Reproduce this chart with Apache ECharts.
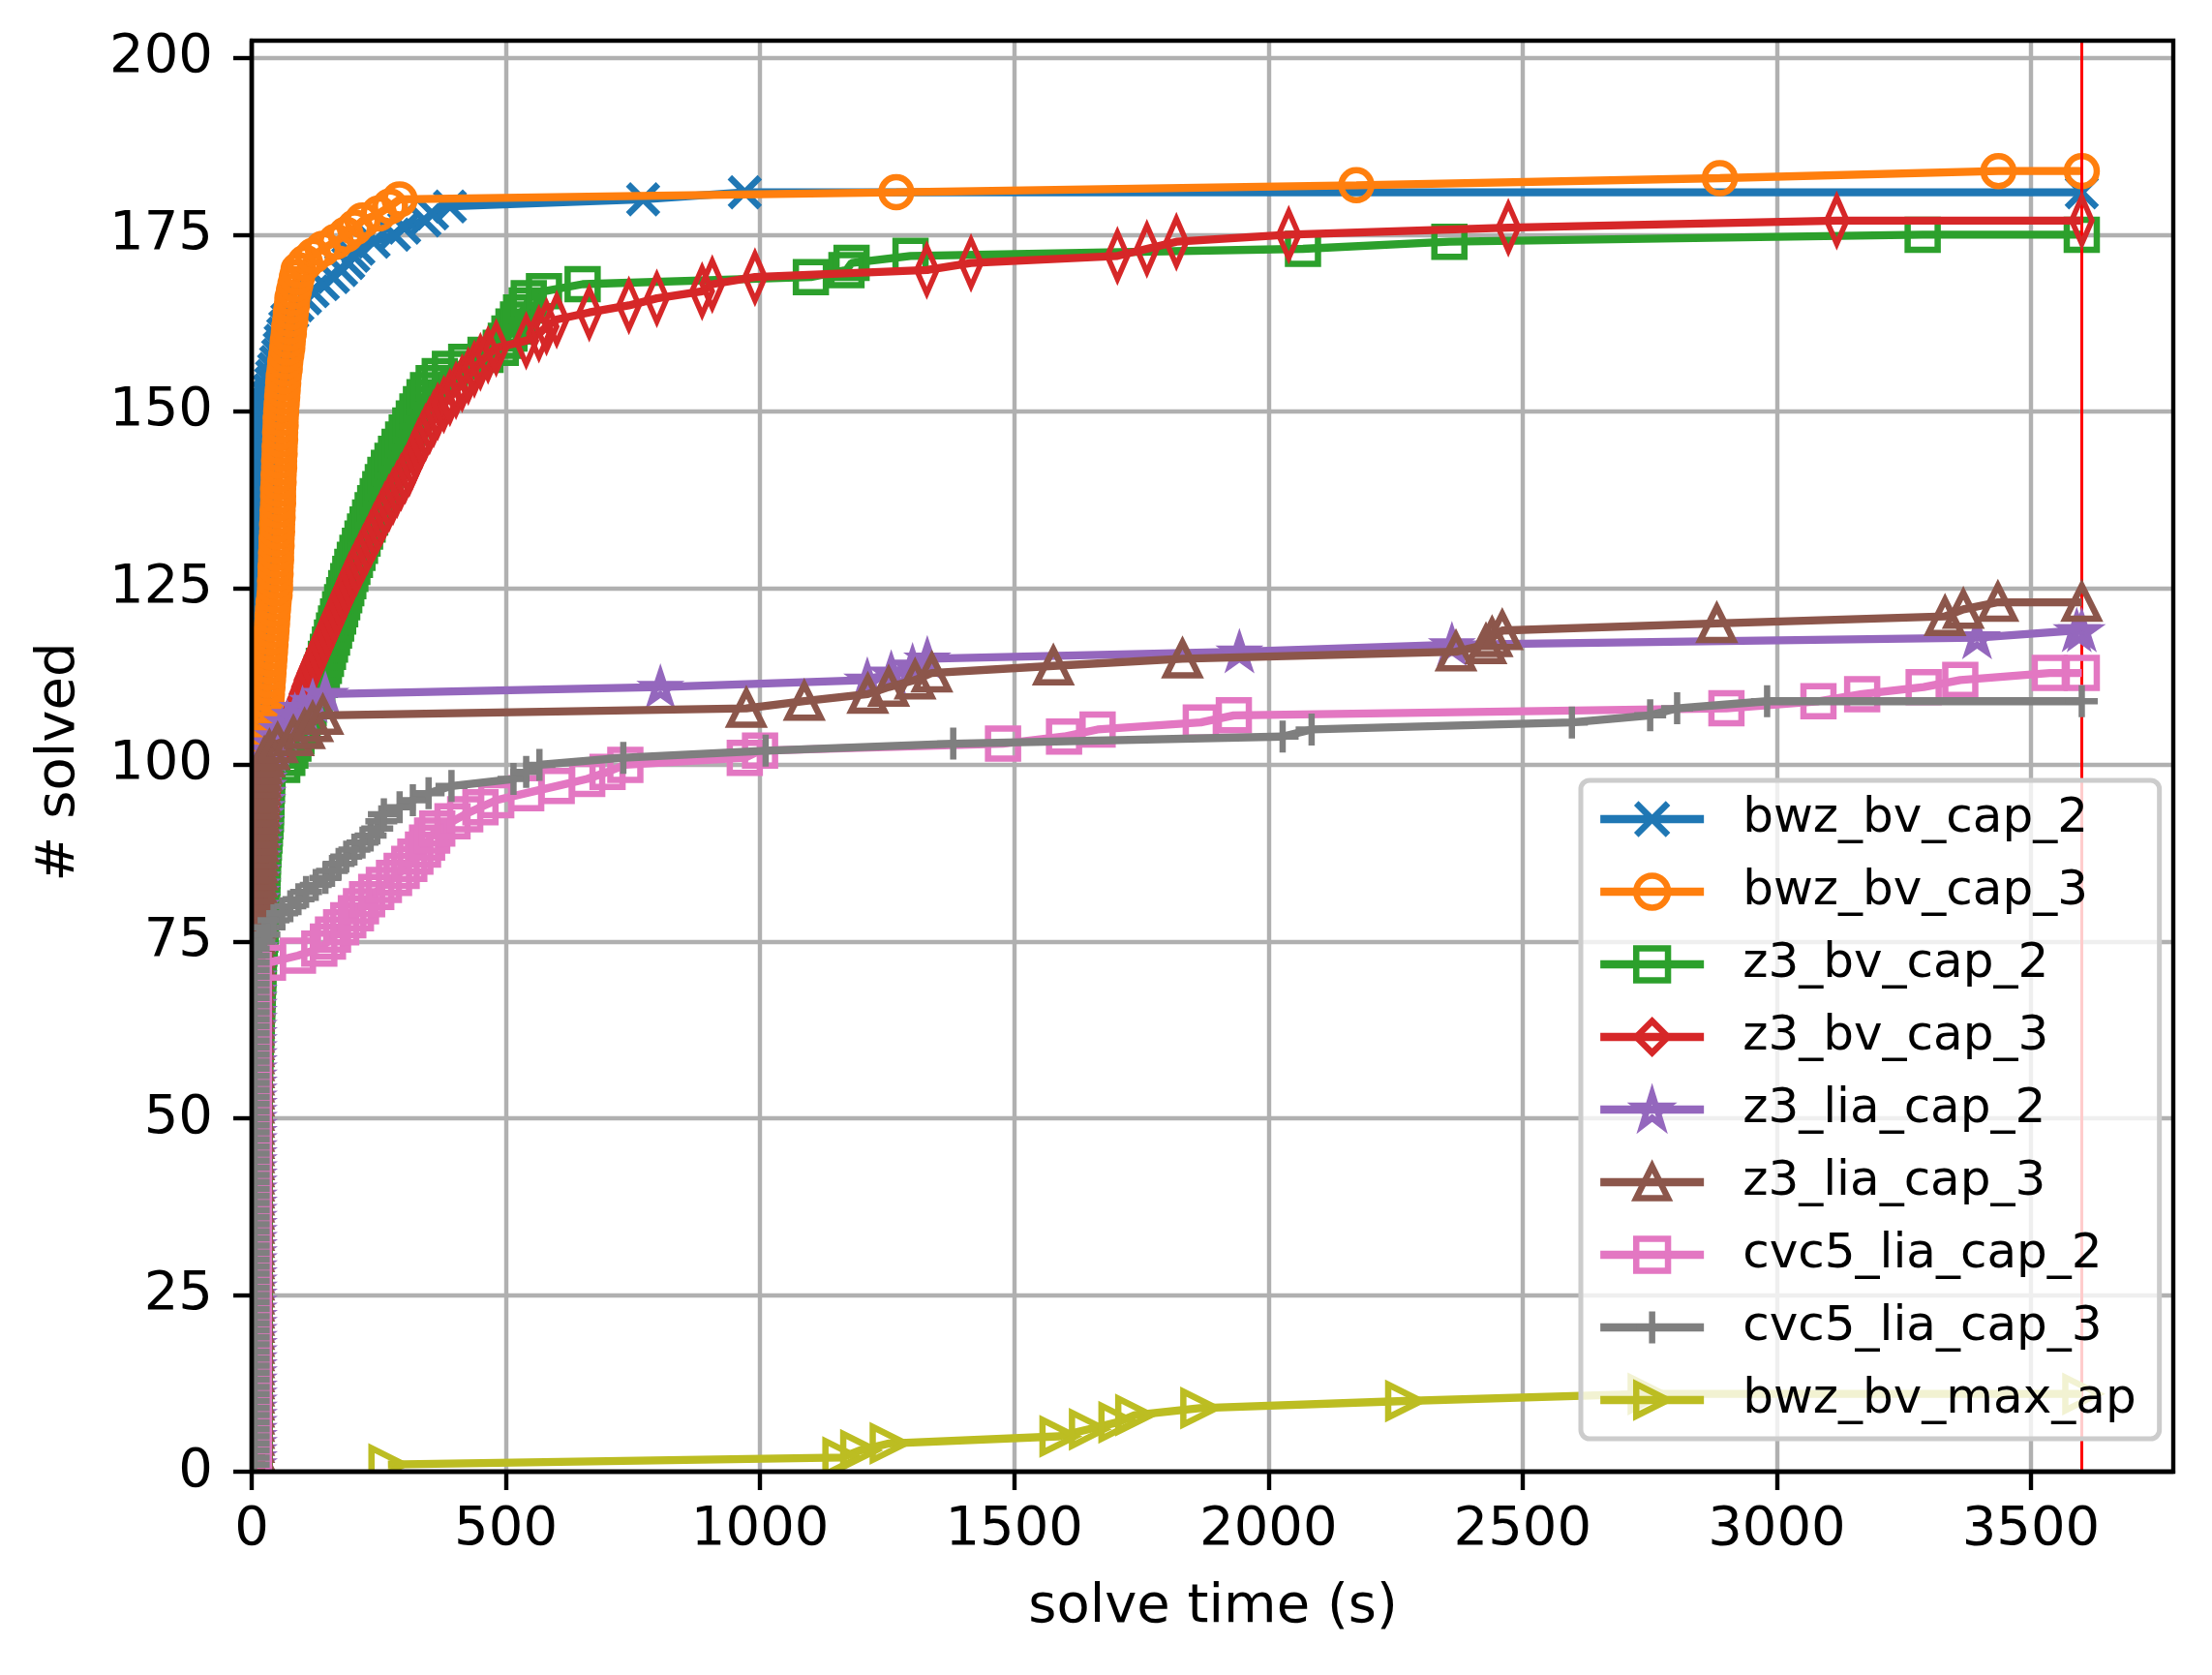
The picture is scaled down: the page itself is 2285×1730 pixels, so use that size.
<!DOCTYPE html>
<html>
<head>
<meta charset="utf-8">
<title># solved vs solve time</title>
<script src="https://cdn.jsdelivr.net/npm/echarts@6/dist/echarts.min.js"></script>
<style>
html, body { margin: 0; padding: 0; background: #fff; }
#chart { width: 2285px; height: 1730px; }
</style>
</head>
<body>
<div id="chart"></div>
<script>
// sorted solve times (s) per solver;
// the k-th entry is the k-th solved instance (cactus plot)
var bwzBvCap2 = [
  3,3,3,3,3,3,3,3,3,3,3,3,3,3,3,3,3,3,3,3,
  3,3,3,3,3,3,3,3,3,3,3,3,3,3,3,3,3,3,3,3,
  3,3,3,3,3,3,3,3,3,3,3,3,3,3,3,3,3,3,3,3,
  3,3,3,3,3,3,3,3,3,3,3,3,3,3,3,3,3,3,3,3,
  4,4,4,4,5,5,5,5,5,6,6,6,6,6,7,7,7,7,7,7,
  7,7,8,8,8,8,9,9,9,9,9,10,10,10,10,10,11,11,11,11,11,12,12,12,12,
  13,13,14,14,14,15,15,16,16,17,17,18,18,19,20,21,21,22,23,24,25,26,27,28,29,
  31,33,35,38,40,44,48,52,55,57,62,66,70,80,90,
  105,120,140,160,176,190,200,210,240,280,300,340,355,390,770,970
];
var bwzBvCap3 = [
  6,6,6,6,6,6,6,6,6,6,6,6,6,6,6,6,6,6,6,6,
  6,6,6,6,6,6,6,6,6,6,6,6,6,6,6,6,6,6,6,6,
  6,6,6,6,6,6,6,6,6,6,6,6,6,6,6,6,6,6,6,6,
  6,6,6,6,6,6,6,6,6,6,6,6,6,6,6,6,6,6,6,6,
  6,6,6,6,6,6,6,6,6,6,
  7,7,7,7,8,8,8,9,9,10,
  11,13,15,17,19,22,25,28,
  29,30,31,32,33,34,35,36,37,38,39,40,41,42,43,45,46,
  46,47,47,48,48,49,49,50,50,51,51,52,52,
  52,53,53,54,54,55,55,56,56,57,57,58,
  59,60,61,62,63,65,66,68,70,
  71,73,74,76,77,79,80,
  83,86,89,92,
  105,121,140,165,185,203,218,250,272,291,
  1268,2173,2888,3436
];
var z3BvCap2 = [
  5,5,5,5,5,5,5,5,5,5,5,5,5,5,5,5,5,5,5,5,
  5,5,5,5,5,5,5,5,5,5,5,5,5,5,5,5,5,5,5,5,
  5,5,5,5,5,5,5,5,5,5,5,5,5,5,5,
  6,6,7,7,8,8,9,9,10,10,11,11,12,12,13,13,14,14,15,16,
  17,17,18,18,19,19,20,20,21,21,22,22,23,24,25,26,27,28,28,29,29,30,30,31,
  60,70,76,82,88,94,100,106,112,
  118,124,129,134,138,142,146,150,154,158,162,166,170,174,178,182,186,
  190,194,198,203,208,213,218,223,228,233,238,243,248,253,258,263,270,277,284,291,
  298,305,312,319,326,333,340,347,
  358,370,390,422,460,490,500,507,515,524,530,541,545,575,651,
  1100,1170,1180,1296,2068,2356,3287
];
var z3BvCap3 = [
  4,4,4,4,4,4,4,4,4,4,4,4,4,4,4,4,4,4,4,4,
  4,4,4,4,4,4,4,4,4,4,4,4,4,4,4,4,4,4,4,4,
  4,4,4,4,4,4,4,4,4,4,4,4,4,4,4,4,4,4,4,4,
  5,5,5,6,6,6,7,7,7,8,8,8,
  9,10,11,12,13,14,15,16,17,18,19,20,21,22,23,24,25,26,27,28,29,30,31,32,33,34,36,38,
  45,52,58,64,70,76,82,88,93,98,103,108,114,120,126,132,138,144,150,
  156,162,168,174,180,186,192,199,206,213,220,227,234,241,248,255,262,270,278,286,294,302,310,
  316,322,328,335,342,350,358,366,378,390,402,414,426,438,450,465,481,
  540,565,580,600,664,742,797,886,906,990,
  1328,1415,1703,1761,1819,2040,2472,3118
];
var z3LiaCap2 = [
  4,4,4,4,4,4,4,4,4,4,4,4,4,4,4,4,4,4,4,4,
  4,4,4,4,4,4,4,4,4,4,4,4,4,4,4,4,4,4,4,4,
  4,4,4,4,4,4,4,4,4,4,4,4,4,4,4,4,4,4,4,4,
  4,4,4,4,4,4,4,4,4,4,4,4,
  6,6,7,7,8,8,9,9,10,10,11,11,12,12,13,14,15,16,17,18,19,20,21,22,23,24,26,28,
  30,38,45,52,60,70,85,100,120,145,
  804,1211,1258,1300,1329,1943,2361,3394,3590
];
var z3LiaCap3 = [
  4,4,4,4,4,4,4,4,4,4,4,4,4,4,4,4,4,4,4,4,
  4,4,4,4,4,4,4,4,4,4,4,4,4,4,4,4,4,4,4,4,
  4,4,4,4,4,4,4,4,4,4,4,4,4,4,4,4,4,4,4,4,
  4,4,4,4,4,4,4,4,4,4,4,4,
  5,5,6,6,7,7,8,8,9,9,10,10,11,11,12,12,13,13,14,14,15,15,16,16,17,18,19,20,
  25,35,51,82,104,120,140,
  973,1087,1212,1253,1305,1338,1577,1831,2369,2428,2440,2460,2882,3331,3367,3435
];
var cvc5LiaCap2 = [
  4,4,4,4,4,4,4,4,4,4,4,4,4,4,4,4,4,4,4,4,
  4,4,4,4,4,4,4,4,4,4,4,4,4,4,4,4,4,4,4,4,
  4,4,4,4,4,4,4,4,4,4,4,4,4,4,4,4,4,4,4,4,
  4,4,4,4,4,4,4,4,4,4,4,
  32,91,133,150,160,176,190,205,215,227,245,260,280,295,310,322,337,345,355,365,
  395,420,450,481,540,600,660,700,735,
  970,1000,1478,1598,1664,1867,1932,2901,3082,3168,3289,3361,3537
];
var cvc5LiaCap3 = [
  4,4,4,4,4,4,4,4,4,4,4,4,4,4,4,4,4,4,4,4,
  4,4,4,4,4,4,4,4,4,4,4,4,4,4,4,4,4,4,4,4,
  4,4,4,4,4,4,4,4,4,4,4,4,4,4,4,4,4,4,4,4,
  4,4,4,4,4,4,4,4,4,4,4,4,4,4,
  15,25,35,43,60,76,92,107,126,145,158,171,186,202,218,234,247,255,260,291,317,348,393,
  515,540,566,731,1011,1380,2028,2085,2597,2751,2804,2981
];
var bwzBvMaxAp = [268,1161,1196,1254,1588,1646,1704,1737,1865,2268,2745];

var cutoff = 3600;
var xTicks = [0, 500, 1000, 1500, 2000, 2500, 3000, 3500];
var yTicks = [0, 25, 50, 75, 100, 125, 150, 175, 200];

var FONT = 'DejaVu Sans';
var SYM_X = 'path://M0,0L10,10M10,0L0,10';
var SYM_PLUS = 'path://M5,0L5,10M0,5L10,5';
var SYM_STAR = 'path://M50,0L61.2,34.5L97.6,34.5L68.2,55.9L79.4,90.5L50,69.1L20.6,90.5L31.8,55.9L2.4,34.5L38.8,34.5Z';
var LINE_W = 8.3;
var EDGE_W = 6.5;

var solvers = [
  {name: 'bwz_bv_cap_2',  times: bwzBvCap2,   color: '#1f77b4', symbol: SYM_X,      size: 31},
  {name: 'bwz_bv_cap_3',  times: bwzBvCap3,   color: '#ff7f0e', symbol: 'circle',   size: 31},
  {name: 'z3_bv_cap_2',   times: z3BvCap2,    color: '#2ca02c', symbol: 'rect',     size: 31},
  {name: 'z3_bv_cap_3',   times: z3BvCap3,    color: '#d62728', symbol: 'diamond',  size: [21, 48]},
  {name: 'z3_lia_cap_2',  times: z3LiaCap2,   color: '#9467bd', symbol: SYM_STAR,   size: [30, 28]},
  {name: 'z3_lia_cap_3',  times: z3LiaCap3,   color: '#8c564b', symbol: 'triangle', size: 34},
  {name: 'cvc5_lia_cap_2', times: cvc5LiaCap2, color: '#e377c2', symbol: 'rect',    size: 31},
  {name: 'cvc5_lia_cap_3', times: cvc5LiaCap3, color: '#7f7f7f', symbol: SYM_PLUS,  size: 33},
  {name: 'bwz_bv_max_ap', times: bwzBvMaxAp,  color: '#bcbd22', symbol: 'triangle', size: 34, rotate: -90}
];

var series = solvers.map(function (s, i) {
  var pts = s.times.map(function (t, k) { return [t, k + 1]; });
  pts.push([cutoff, s.times.length]);
  var item = {
    name: s.name,
    type: 'line',
    xAxisIndex: 0,
    yAxisIndex: 0,
    z: 2 + i,
    data: pts,
    symbol: s.symbol,
    symbolSize: s.size,
    symbolRotate: s.rotate || 0,
    showSymbol: true,
    clip: true,
    silent: true,
    animation: false,
    lineStyle: {color: s.color, width: LINE_W},
    itemStyle: {color: 'rgba(0,0,0,0)', borderColor: s.color, borderWidth: EDGE_W},
    emphasis: {disabled: true}
  };
  if (i === solvers.length - 1) {
    // time limit marker
    item.markLine = {
      silent: true,
      animation: false,
      symbol: ['none', 'none'],
      label: {show: false},
      lineStyle: {color: '#ff0000', width: 3, type: 'solid'},
      emphasis: {disabled: true},
      data: [{xAxis: cutoff}]
    };
  }
  return item;
});

var gridBox = {left: 260, top: 42, width: 1985, height: 1478};

var chart = echarts.init(document.getElementById('chart'));
chart.setOption({
  animation: false,
  backgroundColor: '#ffffff',
  textStyle: {fontFamily: FONT},
  grid: {left: gridBox.left, top: gridBox.top, width: gridBox.width, height: gridBox.height,
         containLabel: false, outerBoundsMode: 'none'},
  xAxis: [
    {
      type: 'value', min: 0, max: 3780, interval: 500, z: 0,
      axisLine: {show: false}, axisTick: {show: false}, axisLabel: {show: false},
      splitLine: {show: true, showMaxLine: false, lineStyle: {color: '#b0b0b0', width: 4.4}}
    },
    {
      type: 'value', min: 0, max: 3780, interval: 500, position: 'bottom', z: 30,
      axisLine: {show: true, onZero: false, lineStyle: {color: '#000', width: 4.4}},
      axisTick: {show: true, inside: false, length: 19, customValues: xTicks,
                 lineStyle: {color: '#000', width: 4.4}},
      axisLabel: {show: true, customValues: xTicks, margin: 32, fontSize: 56, color: '#000',
                  fontFamily: FONT,
                  formatter: function (v) { return v % 500 === 0 ? String(v) : ''; }},
      splitLine: {show: false}
    }
  ],
  yAxis: [
    {
      type: 'value', min: 0, max: 202.45, interval: 25, z: 0,
      axisLine: {show: false}, axisTick: {show: false}, axisLabel: {show: false},
      splitLine: {show: true, showMaxLine: false, lineStyle: {color: '#b0b0b0', width: 4.4}}
    },
    {
      type: 'value', min: 0, max: 202.45, interval: 25, position: 'left', z: 30,
      axisLine: {show: true, onZero: false, lineStyle: {color: '#000', width: 4.4}},
      axisTick: {show: true, inside: false, length: 19, customValues: yTicks,
                 lineStyle: {color: '#000', width: 4.4}},
      axisLabel: {show: true, customValues: yTicks, margin: 40, fontSize: 56, color: '#000',
                  fontFamily: FONT,
                  formatter: function (v) { return v % 25 === 0 ? String(v) : ''; }},
      splitLine: {show: false}
    }
  ],
  legend: {
    orient: 'vertical',
    left: 1633,
    top: 806,
    z: 40,
    itemWidth: 107,
    itemHeight: 41,
    itemGap: 25,
    padding: [15, 24, 15, 16],
    backgroundColor: 'rgba(255,255,255,0.8)',
    borderColor: '#cccccc',
    borderWidth: 5,
    borderRadius: 9,
    selectedMode: false,
    lineStyle: {width: LINE_W},
    itemStyle: {borderWidth: EDGE_W},
    textStyle: {fontFamily: FONT, fontSize: 50, color: '#000', padding: [0, 0, 0, 35]}
  },
  graphic: {
    elements: [
      // markers are clipped at the axes box, like the source plot
      {type: 'rect', z: 20, silent: true,
       shape: {x: 0, y: 0, width: gridBox.left - 2, height: 1730},
       style: {fill: '#ffffff'}},
      {type: 'rect', z: 20, silent: true,
       shape: {x: 0, y: gridBox.top + gridBox.height + 2, width: 2285, height: 300},
       style: {fill: '#ffffff'}},
      {type: 'rect', z: 30, silent: true,
       shape: {x: gridBox.left, y: gridBox.top, width: gridBox.width, height: gridBox.height},
       style: {fill: 'none', stroke: '#000000', lineWidth: 4.4}},
      {type: 'text', z: 30, silent: true, x: 1253, y: 1660,
       style: {text: 'solve time (s)', font: '56px "DejaVu Sans"', fill: '#000',
               textAlign: 'center', textVerticalAlign: 'middle'}},
      {type: 'text', z: 30, silent: true, x: 61, y: 787, rotation: Math.PI / 2,
       style: {text: '# solved', font: '56px "DejaVu Sans"', fill: '#000',
               textAlign: 'center', textVerticalAlign: 'middle'}}
    ]
  },
  series: series
});
</script>
</body>
</html>
